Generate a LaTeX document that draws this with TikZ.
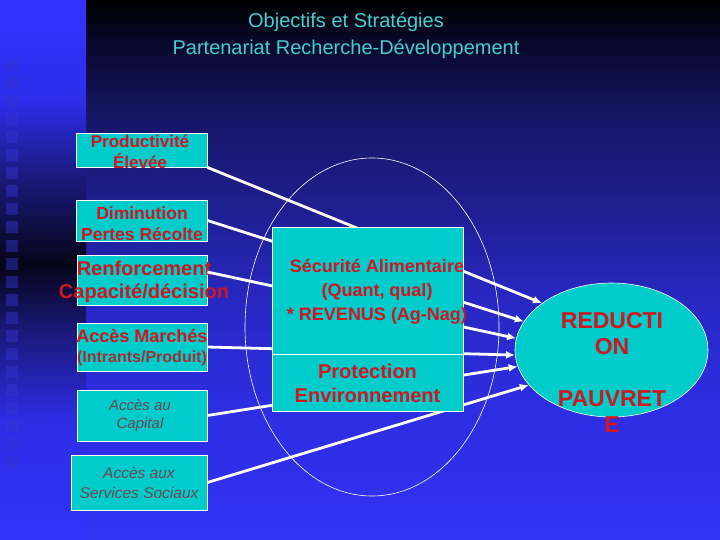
\documentclass[tikz,border=0pt]{standalone}
\usepackage{fontspec}
\setmainfont{Liberation Sans}
\usetikzlibrary{arrows.meta,shapes.geometric}

\definecolor{cyanb}{RGB}{0,204,204}
\definecolor{rouge}{RGB}{208,22,30}
\definecolor{rougesombre}{RGB}{160,48,52}
\definecolor{grisrouge}{RGB}{105,72,82}
\definecolor{titrecyan}{RGB}{64,208,208}
\definecolor{carre}{RGB}{52,52,210}

% fonds degrades (25bp = bas, 75bp = haut)
\pgfdeclareverticalshading{fondmain}{100bp}{rgb(0bp)=(0.196,0.196,0.96); rgb(25bp)=(0.196,0.196,0.96); rgb(38bp)=(0.176,0.176,0.88); rgb(47.2bp)=(0.157,0.157,0.765); rgb(56.5bp)=(0.118,0.118,0.55); rgb(63.9bp)=(0.086,0.086,0.41); rgb(71.3bp)=(0.03,0.03,0.16); rgb(75bp)=(0,0,0); rgb(100bp)=(0,0,0)}
\pgfdeclareverticalshading{fondbande}{100bp}{rgb(0bp)=(0.196,0.196,0.98); rgb(25bp)=(0.196,0.196,0.98); rgb(36.1bp)=(0.176,0.176,0.9); rgb(44.4bp)=(0.098,0.098,0.47); rgb(50.5bp)=(0.02,0.02,0.1); rgb(58.3bp)=(0.098,0.098,0.47); rgb(65.7bp)=(0.176,0.176,0.92); rgb(75bp)=(0.196,0.196,1); rgb(100bp)=(0.196,0.196,1)}

\begin{document}
\begin{tikzpicture}[x=1pt,y=-1pt,
	boite/.style={draw=white, line width=0.8pt, fill=cyanb, inner sep=0pt},
	txtrouge/.style={text=rouge, align=center, inner sep=0pt},
	fleche/.style={draw=white, line width=2.8pt, -{Latex[length=9pt,width=8pt]}}]
	\useasboundingbox (0,0) rectangle (720,540);
	% fond
	\shade[shading=fondmain] (86,0) rectangle (720,540);
	\shade[shading=fondbande] (0,0) rectangle (86,540);
	\foreach \i in {0,...,22}
		\fill[carre, opacity=0.45] (6,59+18.05*\i) rectangle +(12,12);

	% titre
	\node[text=titrecyan, align=center, font=\fontsize{20}{27}\selectfont] (titre) at (346,36)
		{Objectifs et Stratégies\\Partenariat Recherche-Développement};

	% boites de gauche
	\node[boite, minimum width=131pt, minimum height=34pt] (prod) at (141.5,150) {};
	\node[boite, minimum width=131pt, minimum height=41pt] (dim) at (141.5,220.5) {};
	\node[boite, minimum width=130pt, minimum height=50pt] (ren) at (142,280) {};
	\node[boite, minimum width=130pt, minimum height=48pt] (acc) at (142,347) {};
	\node[boite, minimum width=130pt, minimum height=51pt] (cap) at (142,415.5) {};
	\node[boite, minimum width=136pt, minimum height=55pt] (soc) at (139,482.5) {};

	\node[txtrouge, font=\fontsize{17}{21}\selectfont\bfseries] (prodT) at (140,151.5) {Productivité\\Élevée};
	\node[txtrouge, font=\fontsize{17.5}{21}\selectfont\bfseries] (dimT) at (142,223.5) {Diminution\\Pertes Récolte};
	\node[txtrouge, font=\fontsize{20}{23}\selectfont\bfseries] (renT) at (144,281.5) {Renforcement\\Capacité/décision};
	\node[txtrouge, font=\fontsize{18}{20}\selectfont\bfseries] (accT) at (142,348)
		{Accès Marchés\\\fontsize{16}{20}\selectfont\color{rougesombre}(Intrants/Produit)};
	\node[text=grisrouge, align=center, font=\fontsize{15}{18}\selectfont\itshape] (capT) at (140,416) {Accès au\\Capital};
	\node[text=grisrouge, align=center, font=\fontsize{15.5}{20}\selectfont\itshape] (socT) at (139,483) {Accès aux\\Services Sociaux};

	% zone centrale et reduction pauvrete
	\node[draw=white, line width=0.6pt, ellipse, minimum width=254pt, minimum height=338pt, inner sep=0pt] (zone) at (372,327) {};
	\node[draw=white, fill=cyanb, line width=0.6pt, ellipse, minimum width=193pt, minimum height=134pt, inner sep=0pt] (pauv) at (611.5,350) {};
	\node[txtrouge, font=\fontsize{23}{26}\selectfont\bfseries] (pauvT) at (612,372) {REDUCTI\\ON\\[26pt]PAUVRET\\E};

	% liens
	\draw[fleche] (prod.south east) -- (pauv.146);
	\draw[fleche] (dim.east) -- (pauv.162);
	\draw[fleche] ([yshift=8pt]ren.east) -- (pauv.173);
	\draw[fleche] (acc.east) -- (pauv.183);
	\draw[fleche] (cap.east) -- (pauv.190);
	\draw[fleche] (soc.east) -- (pauv.203);

	% boites centrales
	\node[boite, minimum width=191pt, minimum height=127pt] (secu) at (367.5,290.5) {};
	\node[boite, minimum width=191pt, minimum height=57pt] (prot) at (367.5,382.5) {};
	\node[txtrouge, font=\fontsize{18}{24}\selectfont\bfseries] (secuT) at (377,292)
		{Sécurité Alimentaire\\(Quant, qual)\\* REVENUS (Ag-Nag)};
	\node[txtrouge, font=\fontsize{20}{24}\selectfont\bfseries] (protT) at (367.5,383) {Protection\\Environnement};
\end{tikzpicture}
\end{document}
